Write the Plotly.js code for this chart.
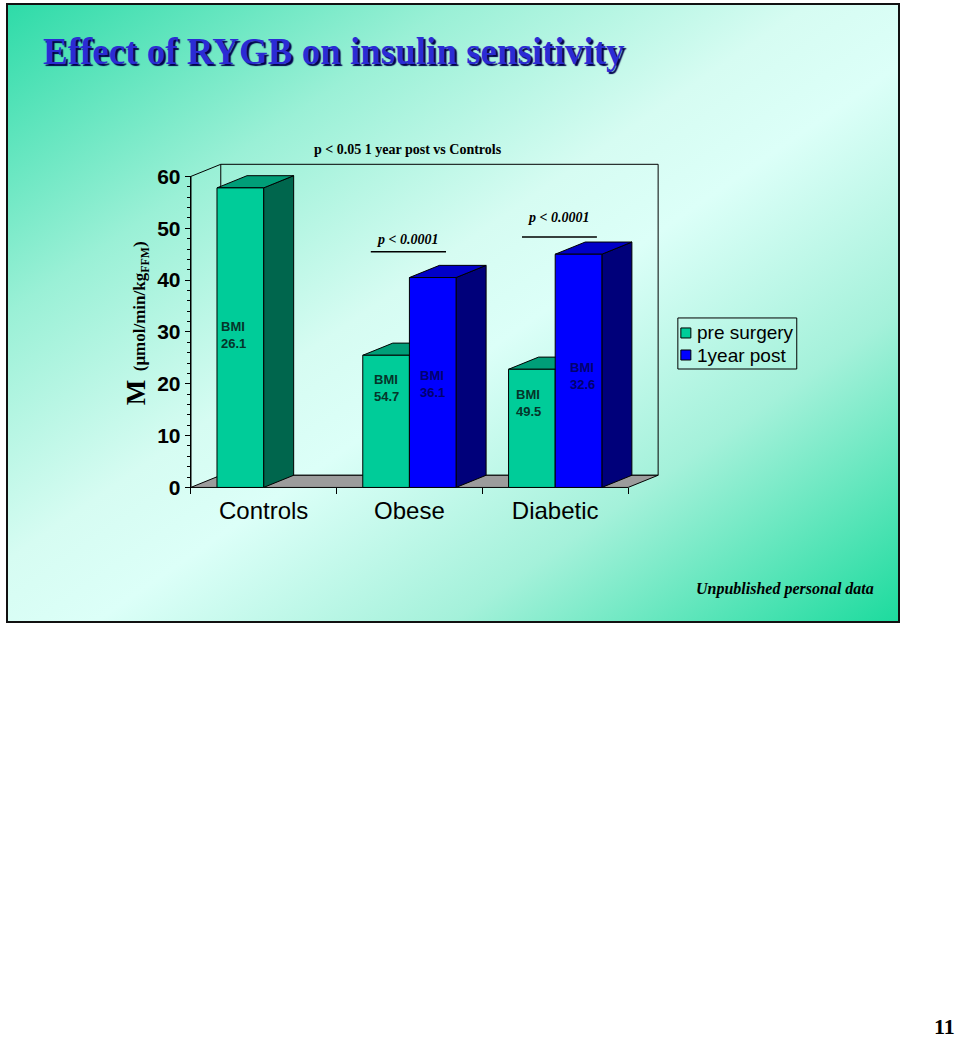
<!DOCTYPE html>
<html>
<head>
<meta charset="utf-8">
<script src="https://cdn.plot.ly/plotly-3.0.1.min.js"></script>
<style>
body { margin: 0; background: #fff; }
#slide {
  position: absolute; left: 6px; top: 3px; width: 894px; height: 620px;
  box-sizing: border-box; border: 2px solid #111;
  background: linear-gradient(to bottom right, #2edba8 0%, #9af0d6 25%, #d6fcf2 45%, #dcfff8 55%, #a4f1da 75%, #1ddb9e 100%);
}
#chart { position: absolute; left: 0; top: 0; width: 960px; height: 1041px; }
</style>
</head>
<body>
<div id="slide"></div>
<div id="chart"></div>
<script>
// data
var groups = ["Controls", "Obese", "Diabetic"];
var preSurgery = [57.8, 25.5, 22.8];
var oneYearPost = [null, 40.5, 45.0];
var bmiPre = ["26.1", "54.7", "49.5"];
var bmiPost = [null, "36.1", "32.6"];
var seriesNames = ["pre surgery", "1year post"];
var yTicks = [0, 10, 20, 30, 40, 50, 60];
var yMinor = [2, 4, 6, 8, 12, 14, 16, 18, 22, 24, 26, 28, 32, 34, 36, 38, 42, 44, 46, 48, 52, 54, 56, 58];

// page geometry (pixels)
var W = 960, H = 1041;
var X0 = 190.5, UX = 145.9;   // px of left edge of first category, px per category
var Y0 = 487.3, UY = 5.177;   // px of value 0, px per unit
var xr = [-0.56, 2.76], yr = [-0.3, 62.6];
var ml = X0 + (xr[0] + 0.5) * UX;
var mr = W - (X0 + (xr[1] + 0.5) * UX);
var mb = H - (Y0 - yr[0] * UY);
var mt = Y0 - yr[1] * UY;
var pw = W - ml - mr, ph = H - mt - mb;
function px(x) { return (x - ml) / pw; }
function py(y) { return (H - mb - y) / ph; }

var DX = 0.206, DY = 2.35;    // 3d depth in axis units
var barW = 0.32;
var sans = "Liberation Sans, Arial, sans-serif";
var serif = "Liberation Serif, Times New Roman, serif";

var colors = {
  pre: {front: "#00cc99", top: "#009e78", side: "#00664d"},
  post: {front: "#0000ff", top: "#0000c8", side: "#00007a"}
};

function face(pts, fill) {
  var d = "M" + pts.map(function(p){ return p[0] + "," + p[1]; }).join("L") + "Z";
  return {type: "path", xref: "x", yref: "y", path: d, fillcolor: fill,
          line: {color: "#000", width: 1}, layer: "below"};
}
function seg(x0, y0, x1, y1, w) {
  return {type: "line", xref: "x", yref: "y", x0: x0, y0: y0, x1: x1, y1: y1,
          line: {color: "#000", width: w || 1}, layer: "below"};
}
// text placed by page pixel
function label(x, y, text, font, xa, extra) {
  var a = {xref: "paper", yref: "paper", x: px(x), y: py(y), text: text, showarrow: false,
           xanchor: xa || "center", yanchor: "middle", font: font};
  for (var k in extra) a[k] = extra[k];
  return a;
}

var shapes = [];
// back wall, floor, axis
shapes.push({type: "rect", xref: "x", yref: "y", x0: -0.5 + DX, y0: DY, x1: 2.5 + DX, y1: 60 + DY,
             line: {color: "#000", width: 1}, fillcolor: "rgba(0,0,0,0)", layer: "below"});
shapes.push(face([[-0.5, 0], [2.5, 0], [2.5 + DX, DY], [-0.5 + DX, DY]], "#9c9c9c"));
shapes.push(seg(-0.5, 60, -0.5 + DX, 60 + DY));
shapes.push(seg(-0.5, 0, -0.5, 60, 1.5));

// top and side faces of the bars
function addFaces(vals, off, c) {
  vals.forEach(function(v, i) {
    if (v === null) return;
    var l = i + off, r = l + barW;
    shapes.push(face([[r, 0], [r, v], [r + DX, v + DY], [r + DX, DY]], c.side));
    shapes.push(face([[l, v], [r, v], [r + DX, v + DY], [l + DX, v + DY]], c.top));
  });
}
addFaces(preSurgery, -barW, colors.pre);
addFaces(oneYearPost, 0, colors.post);

// significance lines
shapes.push(seg(0.735, 45.5, 1.251, 45.5, 1.5));
shapes.push(seg(1.772, 48.3, 2.286, 48.3, 1.5));

// hand made legend
shapes.push({type: "rect", xref: "paper", yref: "paper", x0: px(678), x1: px(797), y0: py(318), y1: py(369),
             line: {color: "#000", width: 1}});
shapes.push({type: "rect", xref: "paper", yref: "paper", x0: px(681), x1: px(691), y0: py(328), y1: py(338),
             fillcolor: colors.pre.front, line: {color: "#000", width: 1}});
shapes.push({type: "rect", xref: "paper", yref: "paper", x0: px(681), x1: px(691), y0: py(350), y1: py(360),
             fillcolor: colors.post.front, line: {color: "#000", width: 1}});

var traces = [
  {type: "bar", x: [0, 1, 2], y: preSurgery, name: seriesNames[0],
   marker: {color: colors.pre.front, line: {color: "#000", width: 1}}, hoverinfo: "none"},
  {type: "bar", x: [0, 1, 2], y: oneYearPost, name: seriesNames[1],
   marker: {color: colors.post.front, line: {color: "#000", width: 1}}, hoverinfo: "none"}
];

var ann = [];
// BMI labels inside bars
var bmiY = {pre: [29.4, 19.2, 16.3], post: [null, 20.0, 21.5]};
var bmiDx = {pre: [-0.05, 0, -0.02], post: [null, 0, 0.03]};
bmiPre.forEach(function(b, i) {
  ann.push({xref: "x", yref: "y", x: i - barW / 2 + bmiDx.pre[i], y: bmiY.pre[i], text: "BMI<br>" + b,
            xanchor: "center", yanchor: "middle",
            showarrow: false, align: "left", font: {family: sans, size: 13, weight: "bold", color: "#05352a"}});
});
bmiPost.forEach(function(b, i) {
  if (b === null) return;
  ann.push({xref: "x", yref: "y", x: i + barW / 2 + bmiDx.post[i], y: bmiY.post[i], text: "BMI<br>" + b,
            xanchor: "center", yanchor: "middle",
            showarrow: false, align: "left", font: {family: sans, size: 13, weight: "bold", color: "#000070"}});
});
// p values
ann.push(label(408, 150, "p < 0.05 1 year post vs Controls", {family: serif, size: 14, weight: "bold", color: "#000"}));
ann.push({xref: "x", yref: "y", x: 0.985, y: 47.9, text: "p < 0.0001", showarrow: false,
          xanchor: "center", yanchor: "middle",
          font: {family: serif, size: 14, weight: "bold", style: "italic", color: "#000"}});
ann.push({xref: "x", yref: "y", x: 2.02, y: 52.0, text: "p < 0.0001", showarrow: false,
          xanchor: "center", yanchor: "middle",
          font: {family: serif, size: 14, weight: "bold", style: "italic", color: "#000"}});
// axis title
ann.push(label(137, 323, '<span style="font-size:27px">M</span>  (μmol/min/kg<sub>FFM</sub>)',
               {family: serif, size: 17, weight: "bold", color: "#000"}, "center", {textangle: -90}));
// legend text
ann.push(label(695, 333, seriesNames[0], {family: sans, size: 19, color: "#000"}, "left"));
ann.push(label(695, 356, seriesNames[1], {family: sans, size: 19, color: "#000"}, "left"));
// footers
ann.push(label(785, 589, "Unpublished personal data", {family: serif, size: 16, weight: "bold", style: "italic", color: "#000"}));
ann.push(label(956, 1026, "11", {family: serif, size: 22, weight: "bold", color: "#000"}, "right", {borderpad: 0}));

var layout = {
  width: W, height: H,
  margin: {l: ml, r: mr, t: mt, b: mb, pad: 0},
  paper_bgcolor: "rgba(0,0,0,0)", plot_bgcolor: "rgba(0,0,0,0)",
  title: {text: "Effect of RYGB on insulin sensitivity", xref: "container", yref: "container",
          x: 43 / W, xanchor: "left", y: 1 - 51 / H, yanchor: "middle",
          font: {family: serif, size: 37, weight: "bold", color: "#2b2bd4", shadow: "2px 2px 1px #00004d"}},
  barmode: "group", bargap: 0.36, bargroupgap: 0,
  showlegend: false,
  xaxis: {range: xr, anchor: "free", position: (0 - yr[0]) / (yr[1] - yr[0]),
          tickmode: "array", tickvals: [0, 1, 2], ticktext: groups, ticks: "",
          ticklabelstandoff: 7, showgrid: false, zeroline: false, showline: false,
          tickfont: {family: sans, size: 24, color: "#000"},
          minor: {tickmode: "array", tickvals: [-0.5, 0.5, 1.5, 2.5], ticks: "outside", ticklen: 6,
                  tickcolor: "#000", tickwidth: 1, showgrid: false}},
  yaxis: {range: yr, anchor: "free", position: (-0.5 - xr[0]) / (xr[1] - xr[0]),
          tickmode: "array", tickvals: yTicks, ticks: "outside", ticklen: 6, tickcolor: "#000",
          showgrid: false, zeroline: false, showline: false,
          tickfont: {family: sans, size: 21, weight: "bold", color: "#000"},
          minor: {tickmode: "array", tickvals: yMinor, ticks: "outside", ticklen: 4,
                  tickcolor: "#000", tickwidth: 1, showgrid: false}},
  shapes: shapes,
  annotations: ann
};

Plotly.newPlot("chart", traces, layout, {displayModeBar: false, staticPlot: true});
</script>
</body>
</html>
